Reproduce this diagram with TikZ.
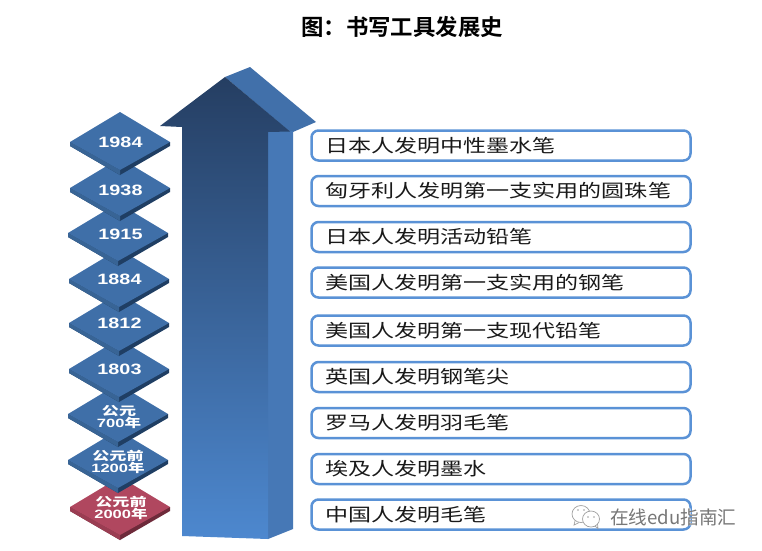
\documentclass[tikz,border=0pt]{standalone}
\usepackage{fontspec}
\usepackage{graphicx}
\setmainfont{Liberation Sans}
\newfontfamily\cjk{Noto Sans CJK SC}
\newfontfamily\cjkbold{Noto Sans CJK SC Bold}
\definecolor{bluetop}{HTML}{3F6FA8}
\definecolor{blueedge}{HTML}{1F3E63}
\definecolor{bluelow}{HTML}{386495}
\definecolor{redtop}{HTML}{B0475F}
\definecolor{rededge}{HTML}{6E2A3A}
\definecolor{redlow}{HTML}{9A3D52}
\definecolor{arrowtop}{HTML}{253E62}
\definecolor{arrowbot}{HTML}{4D88CF}
\definecolor{arrowside}{HTML}{4678B6}
\definecolor{arrowhead}{HTML}{4170AA}
\definecolor{boxline}{HTML}{5A92D6}
\definecolor{wmark}{HTML}{777777}
\newcommand{\wide}[2]{\scalebox{#1}[1]{#2}}
\tikzset{
  yeartext/.style={text=white, font=\fontsize{15}{15}\selectfont\bfseries, inner sep=0pt},
  yearcjk/.style={text=white, font=\fontsize{12}{12.5}\selectfont\bfseries, align=center, inner sep=0pt},
  rowbox/.style={draw=boxline, line width=2.5pt, rounded corners=7pt, fill=white, minimum width=379pt, inner sep=0pt},
  rowtext/.style={text=black!90, font=\fontsize{18}{18}\cjk\selectfont, inner sep=0pt, anchor=west},
  titletext/.style={text=black, font=\fontsize{22.4}{22.4}\cjkbold\selectfont, inner sep=0pt},
  wmtext/.style={text=wmark, font=\fontsize{18.6}{18.6}\cjk\selectfont, inner sep=0pt, anchor=west}
}
\begin{document}
\begin{tikzpicture}[x=1pt,y=-1pt]
\useasboundingbox[fill=white] (0,0) rectangle (762,550);

\node[titletext] (title) at (402,27) {图：书写工具发展史};

% stack of diamonds, lowest first
\foreach \n/\cx/\cy/\t/\l/\e in {
  d9/120/507/redtop/redlow/rededge,
  d8/118/460/bluetop/bluelow/blueedge,
  d7/118/414/bluetop/bluelow/blueedge,
  d6/119/369/bluetop/bluelow/blueedge,
  d5/119/323/bluetop/bluelow/blueedge,
  d4/119/279/bluetop/bluelow/blueedge,
  d3/118/233/bluetop/bluelow/blueedge,
  d2/120/188/bluetop/bluelow/blueedge,
  d1/120/142/bluetop/bluelow/blueedge}{
  \fill[\e] (\cx-50,\cy) -- (\cx-50,\cy+4) -- (\cx,\cy+33) -- (\cx+50,\cy+4) -- (\cx+50,\cy) -- cycle;
  \fill[\l] (\cx-50,\cy) -- (\cx-50,\cy+4) -- (\cx,\cy+33) -- (\cx,\cy+28) -- cycle;
  \fill[\t] (\cx-50,\cy) -- (\cx,\cy-30) -- (\cx+50,\cy) -- (\cx,\cy+28) -- cycle;
}

\node[yeartext] (y1) at (120.5,142.5) {\wide{1.32}{1984}};
\node[yeartext] (y2) at (120.5,190) {\wide{1.32}{1938}};
\node[yeartext] (y3) at (120.5,234) {\wide{1.32}{1915}};
\node[yeartext] (y4) at (119.5,279.5) {\wide{1.32}{1884}};
\node[yeartext] (y5) at (119.5,323.5) {\wide{1.32}{1812}};
\node[yeartext] (y6) at (119.5,369) {\wide{1.32}{1803}};
\node[yearcjk] (y7) at (119,417) {\wide{1.42}{\cjkbold 公元}\\\wide{1.38}{700\cjkbold 年}};
\node[yearcjk] (y8) at (118,462) {\wide{1.42}{\cjkbold 公元前}\\\wide{1.38}{1200\cjkbold 年}};
\node[yearcjk] (y9) at (121,508) {\wide{1.42}{\cjkbold 公元前}\\\wide{1.38}{2000\cjkbold 年}};

% arrow
\fill[arrowhead] (225,77) -- (250,67) -- (316,122) -- (293,132) -- (290,132) -- cycle;
\fill[arrowside] (268,131) -- (293,131) -- (293,529) -- (268,539) -- cycle;
\shade[top color=arrowtop, bottom color=arrowbot]
  (225,77) -- (160,126) -- (182,127) -- (182,536) -- (268,539) -- (268,132) -- (290,131.5) -- cycle;

% rows
\foreach \n/\cy/\txt in {
  1/145.5/日本人发明中性墨水笔,
  2/191/匈牙利人发明第一支实用的圆珠笔,
  3/237/日本人发明活动铅笔,
  4/282.5/美国人发明第一支实用的钢笔,
  5/330.5/美国人发明第一支现代铅笔,
  6/377/英国人发明钢笔尖,
  7/423/罗马人发明羽毛笔,
  8/469/埃及人发明墨水,
  9/514.5/中国人发明毛笔}{
  \node[rowbox, minimum height=30pt] (b\n) at (501,\cy) {};
  \node[rowtext] (t\n) at ([xshift=15pt]b\n.west) {\wide{1.28}{\txt}};
}

% watermark
\draw[white, line width=2.4pt] (581,514) ellipse [x radius=9, y radius=8.5];
\draw[white, line width=2.4pt] (591,519) ellipse [x radius=8.5, y radius=8];
\draw[wmark!70, line width=0.7pt] (581,514) ellipse [x radius=9, y radius=8.5];
\fill[white] (591,519) ellipse [x radius=8.5, y radius=8];
\draw[wmark!70, line width=0.7pt] (591,519) ellipse [x radius=8.5, y radius=8];
\draw[wmark!70, line width=0.7pt] (575,521) -- (574,525) -- (579,522.5);
\draw[wmark!70, line width=0.7pt] (595,526) -- (598,528.5) -- (597.5,524);
\fill[wmark!70] (578,510) circle (0.9) (584,510) circle (0.9) (588,517) circle (0.8) (594,517) circle (0.8);
\node[wmtext, text=white] at (610.6,517.6) {在线edu指南汇};
\node[wmtext] (wm) at (610,517) {在线edu指南汇};
\end{tikzpicture}
\end{document}
